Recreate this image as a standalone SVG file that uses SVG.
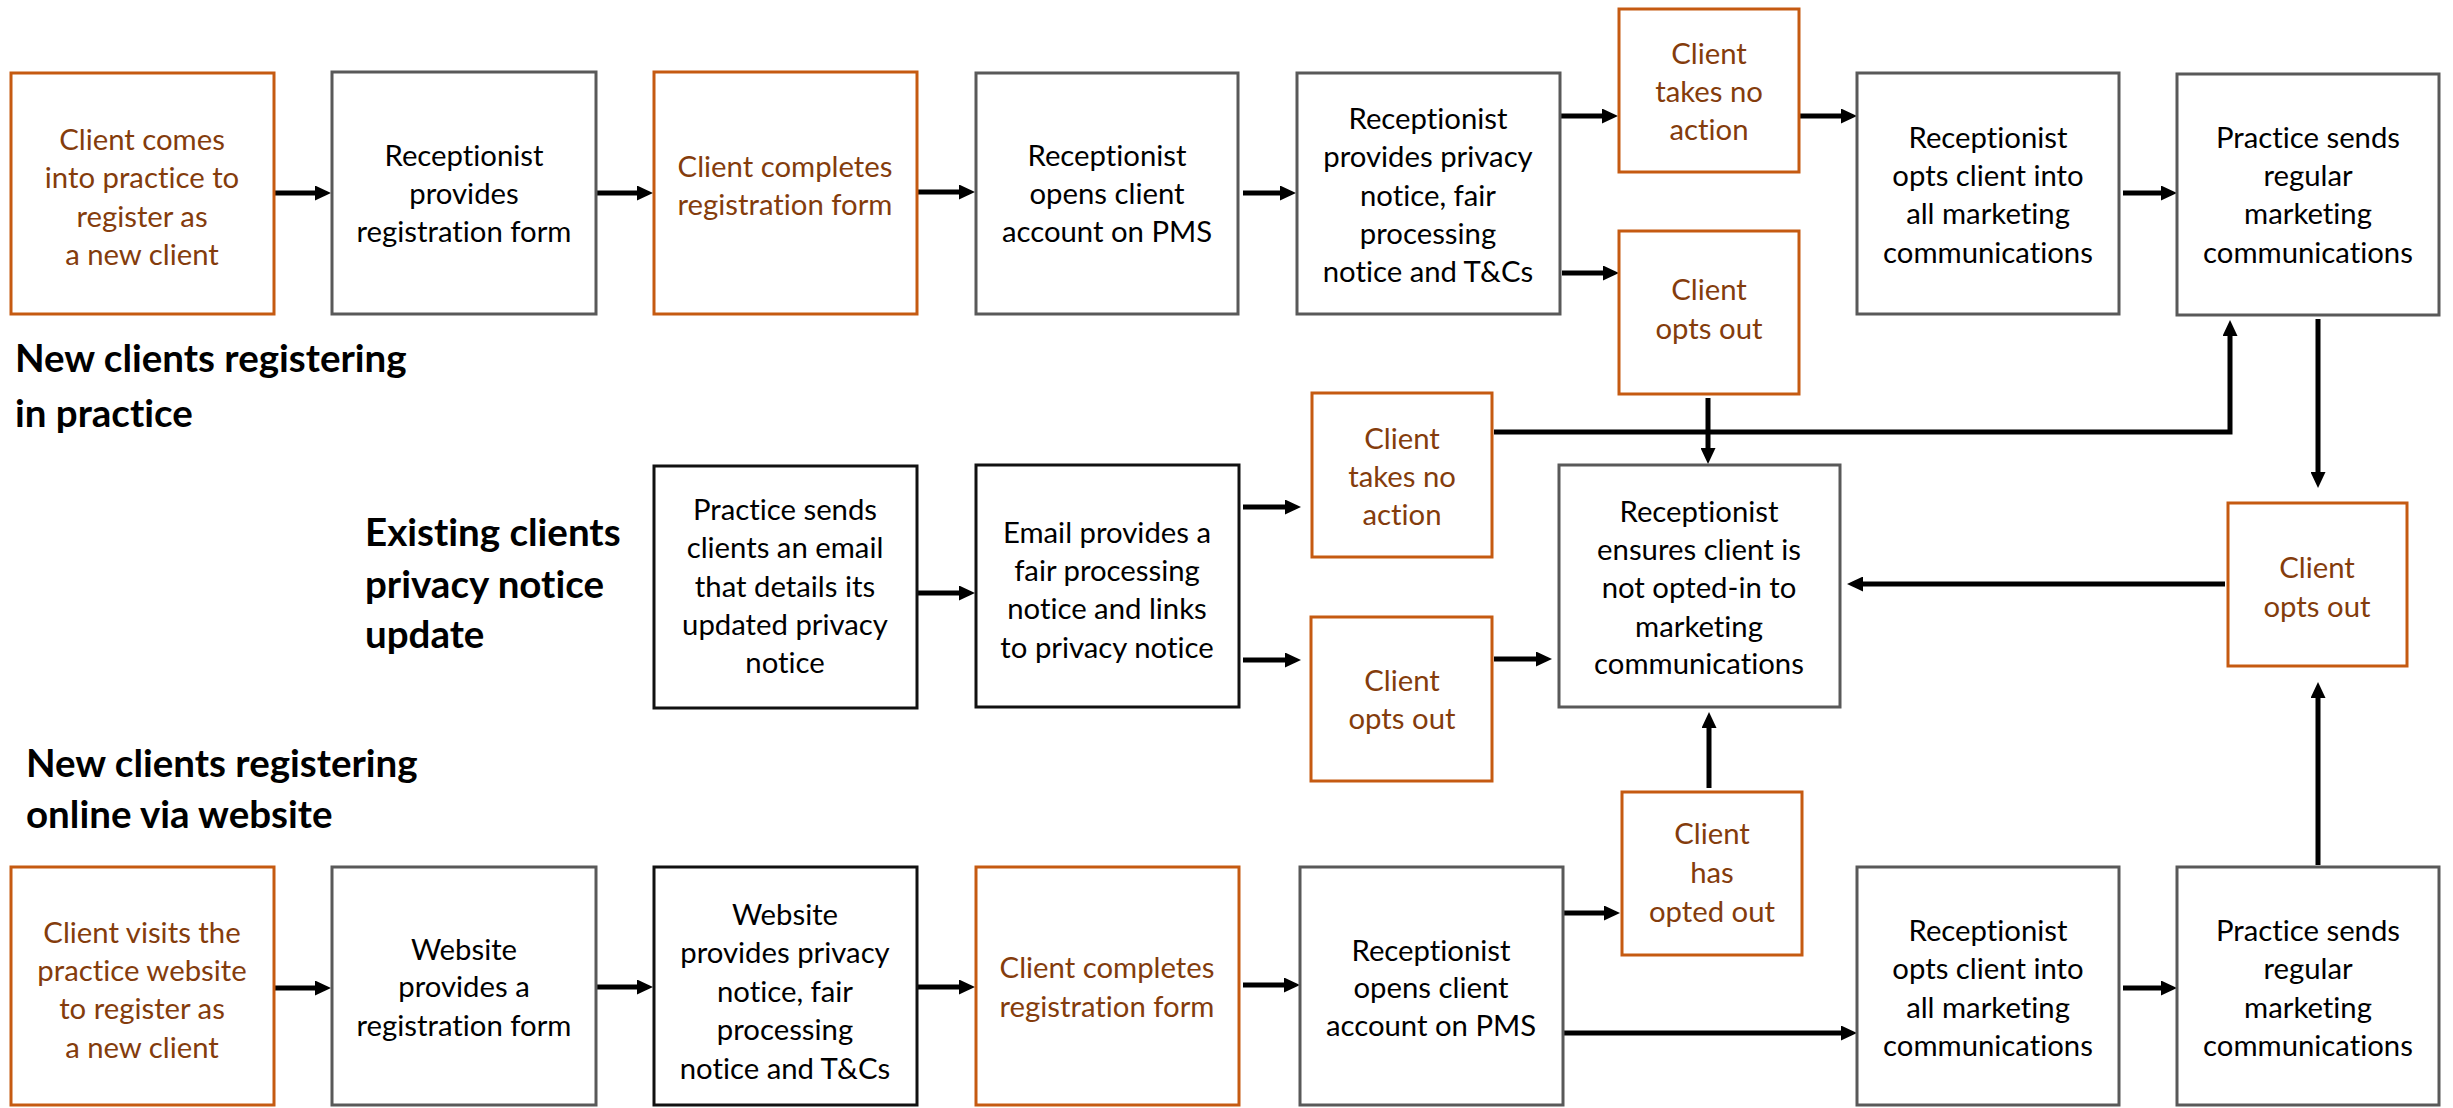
<svg xmlns="http://www.w3.org/2000/svg" width="2453" height="1108" viewBox="0 0 2453 1108">
<style>
text{font-variant-ligatures:none;font-feature-settings:"liga" 0,"dlig" 0}
.g{fill:#fff;stroke:#595959;stroke-width:3}
.k{fill:#fff;stroke:#111;stroke-width:3}
.o{fill:#fff;stroke:#C55A11;stroke-width:3}
.t{font-family:Lato,"Open Sans","Liberation Sans",sans-serif;font-size:29.3px;text-anchor:middle;fill:#000}
.ot{fill:#843C0C}
.h{font-family:Lato,"Open Sans","Liberation Sans",sans-serif;font-size:38.5px;font-weight:bold;fill:#000}
.c{fill:none;stroke:#000;stroke-width:5}
</style>
<defs>
<marker id="ah" markerUnits="userSpaceOnUse" markerWidth="16" markerHeight="15" refX="2" refY="7.5" orient="auto"><path d="M0,0 L16,7.5 L0,15 z" fill="#000"/></marker>
</defs>
<g id="labels">
<text class="h" x="15" y="372">New clients registering</text>
<text class="h" x="15" y="427">in practice</text>
<text class="h" x="365" y="546">Existing clients</text>
<text class="h" x="365" y="598">privacy notice</text>
<text class="h" x="365" y="648">update</text>
<text class="h" x="26" y="777">New clients registering</text>
<text class="h" x="26" y="828">online via website</text>
</g>
<g id="connectors">
<path class="c" marker-end="url(#ah)" d="M274,193 H317"/>
<path class="c" marker-end="url(#ah)" d="M596,193 H639"/>
<path class="c" marker-end="url(#ah)" d="M918,192 H961"/>
<path class="c" marker-end="url(#ah)" d="M1243,193 H1282"/>
<path class="c" marker-end="url(#ah)" d="M1561,116 H1604"/>
<path class="c" marker-end="url(#ah)" d="M1562,273 H1605"/>
<path class="c" marker-end="url(#ah)" d="M1799,116 H1843"/>
<path class="c" marker-end="url(#ah)" d="M2123,193 H2163"/>
<path class="c" marker-end="url(#ah)" d="M1494,432 H2230 V334"/>
<path class="c" marker-end="url(#ah)" d="M1708,398 V450"/>
<path class="c" marker-end="url(#ah)" d="M2318,319 V474"/>
<path class="c" marker-end="url(#ah)" d="M2225,584 H1861"/>
<path class="c" marker-end="url(#ah)" d="M918,593 H961"/>
<path class="c" marker-end="url(#ah)" d="M1243,507 H1287"/>
<path class="c" marker-end="url(#ah)" d="M1243,660 H1287"/>
<path class="c" marker-end="url(#ah)" d="M1494,659 H1538"/>
<path class="c" marker-end="url(#ah)" d="M1709,788 V726"/>
<path class="c" marker-end="url(#ah)" d="M2318,865 V696"/>
<path class="c" marker-end="url(#ah)" d="M274,988 H317"/>
<path class="c" marker-end="url(#ah)" d="M597,987 H639"/>
<path class="c" marker-end="url(#ah)" d="M918,987 H961"/>
<path class="c" marker-end="url(#ah)" d="M1243,985 H1286"/>
<path class="c" marker-end="url(#ah)" d="M1561,913 H1606"/>
<path class="c" marker-end="url(#ah)" d="M1564,1033 H1843"/>
<path class="c" marker-end="url(#ah)" d="M2123,988 H2163"/>
</g>
<g id="t1"><rect class="o" x="11" y="73" width="263" height="241"/><text class="t ot"><tspan x="142" y="150">Client comes</tspan><tspan x="142" y="188">into practice to</tspan><tspan x="142" y="227">register as</tspan><tspan x="142" y="265">a new client</tspan></text></g>
<g id="t2"><rect class="g" x="332" y="72" width="264" height="242"/><text class="t"><tspan x="464" y="166">Receptionist</tspan><tspan x="464" y="204">provides</tspan><tspan x="464" y="242">registration form</tspan></text></g>
<g id="t3"><rect class="o" x="654" y="72" width="263" height="242"/><text class="t ot"><tspan x="785" y="177">Client completes</tspan><tspan x="785" y="215">registration form</tspan></text></g>
<g id="t4"><rect class="g" x="976" y="73" width="262" height="241"/><text class="t"><tspan x="1107" y="166">Receptionist</tspan><tspan x="1107" y="204">opens client</tspan><tspan x="1107" y="242">account on PMS</tspan></text></g>
<g id="t5"><rect class="g" x="1297" y="73" width="263" height="241"/><text class="t"><tspan x="1428" y="129">Receptionist</tspan><tspan x="1428" y="167">provides privacy</tspan><tspan x="1428" y="206">notice, fair</tspan><tspan x="1428" y="244">processing</tspan><tspan x="1428" y="282">notice and T&amp;Cs</tspan></text></g>
<g id="t6"><rect class="o" x="1619" y="9" width="180" height="163"/><text class="t ot"><tspan x="1709" y="64">Client</tspan><tspan x="1709" y="102">takes no</tspan><tspan x="1709" y="140">action</tspan></text></g>
<g id="t7"><rect class="o" x="1619" y="231" width="180" height="163"/><text class="t ot"><tspan x="1709" y="300">Client</tspan><tspan x="1709" y="339">opts out</tspan></text></g>
<g id="t8"><rect class="g" x="1857" y="73" width="262" height="241"/><text class="t"><tspan x="1988" y="148">Receptionist</tspan><tspan x="1988" y="186">opts client into</tspan><tspan x="1988" y="224">all marketing</tspan><tspan x="1988" y="263">communications</tspan></text></g>
<g id="t9"><rect class="g" x="2177" y="74" width="262" height="241"/><text class="t"><tspan x="2308" y="148">Practice sends</tspan><tspan x="2308" y="186">regular</tspan><tspan x="2308" y="224">marketing</tspan><tspan x="2308" y="263">communications</tspan></text></g>
<g id="m1"><rect class="k" x="654" y="466" width="263" height="242"/><text class="t"><tspan x="785" y="520">Practice sends</tspan><tspan x="785" y="558">clients an email</tspan><tspan x="785" y="597">that details its</tspan><tspan x="785" y="635">updated privacy</tspan><tspan x="785" y="673">notice</tspan></text></g>
<g id="m2"><rect class="k" x="976" y="465" width="263" height="242"/><text class="t"><tspan x="1107" y="543">Email provides a</tspan><tspan x="1107" y="581">fair processing</tspan><tspan x="1107" y="619">notice and links</tspan><tspan x="1107" y="658">to privacy notice</tspan></text></g>
<g id="m3"><rect class="o" x="1312" y="393" width="180" height="164"/><text class="t ot"><tspan x="1402" y="449">Client</tspan><tspan x="1402" y="487">takes no</tspan><tspan x="1402" y="525">action</tspan></text></g>
<g id="m4"><rect class="o" x="1311" y="617" width="181" height="164"/><text class="t ot"><tspan x="1402" y="691">Client</tspan><tspan x="1402" y="729">opts out</tspan></text></g>
<g id="m5"><rect class="g" x="1559" y="465" width="281" height="242"/><text class="t"><tspan x="1699" y="522">Receptionist</tspan><tspan x="1699" y="560">ensures client is</tspan><tspan x="1699" y="598">not opted-in to</tspan><tspan x="1699" y="637">marketing</tspan><tspan x="1699" y="674">communications</tspan></text></g>
<g id="m6"><rect class="o" x="2228" y="503" width="179" height="163"/><text class="t ot"><tspan x="2317" y="578">Client</tspan><tspan x="2317" y="617">opts out</tspan></text></g>
<g id="b1"><rect class="o" x="11" y="867" width="263" height="238"/><text class="t ot"><tspan x="142" y="943">Client visits the</tspan><tspan x="142" y="981">practice website</tspan><tspan x="142" y="1019">to register as</tspan><tspan x="142" y="1058">a new client</tspan></text></g>
<g id="b2"><rect class="g" x="332" y="867" width="264" height="238"/><text class="t"><tspan x="464" y="960">Website</tspan><tspan x="464" y="997">provides a</tspan><tspan x="464" y="1036">registration form</tspan></text></g>
<g id="b3"><rect class="k" x="654" y="867" width="263" height="238"/><text class="t"><tspan x="785" y="925">Website</tspan><tspan x="785" y="963">provides privacy</tspan><tspan x="785" y="1002">notice, fair</tspan><tspan x="785" y="1040">processing</tspan><tspan x="785" y="1079">notice and T&amp;Cs</tspan></text></g>
<g id="b4"><rect class="o" x="976" y="867" width="263" height="238"/><text class="t ot"><tspan x="1107" y="978">Client completes</tspan><tspan x="1107" y="1017">registration form</tspan></text></g>
<g id="b5"><rect class="g" x="1300" y="867" width="263" height="238"/><text class="t"><tspan x="1431" y="961">Receptionist</tspan><tspan x="1431" y="998">opens client</tspan><tspan x="1431" y="1036">account on PMS</tspan></text></g>
<g id="b6"><rect class="o" x="1622" y="792" width="180" height="163"/><text class="t ot"><tspan x="1712" y="844">Client</tspan><tspan x="1712" y="883">has</tspan><tspan x="1712" y="922">opted out</tspan></text></g>
<g id="b7"><rect class="g" x="1857" y="867" width="262" height="238"/><text class="t"><tspan x="1988" y="941">Receptionist</tspan><tspan x="1988" y="979">opts client into</tspan><tspan x="1988" y="1018">all marketing</tspan><tspan x="1988" y="1056">communications</tspan></text></g>
<g id="b8"><rect class="g" x="2177" y="867" width="262" height="238"/><text class="t"><tspan x="2308" y="941">Practice sends</tspan><tspan x="2308" y="979">regular</tspan><tspan x="2308" y="1018">marketing</tspan><tspan x="2308" y="1056">communications</tspan></text></g>
</svg>
